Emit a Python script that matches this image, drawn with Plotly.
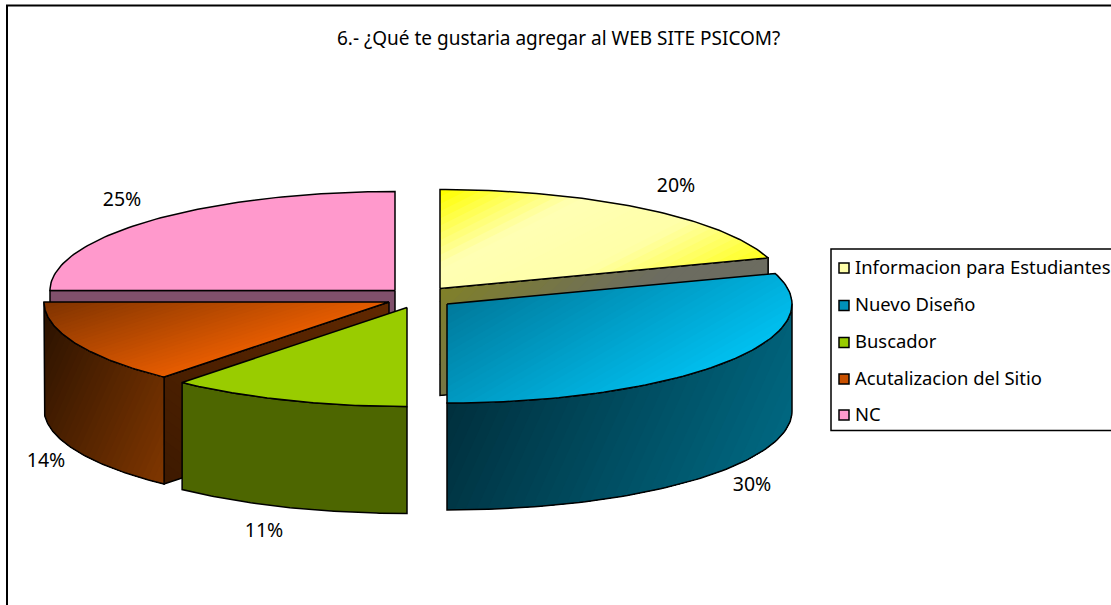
import math
import plotly.graph_objects as go

# ---- data ----
TITLE = "6.- ¿Qué te gustaria agregar al WEB SITE PSICOM?"
categories = ["Informacion para Estudiantes", "Nuevo Diseño", "Buscador", "Acutalizacion del Sitio", "NC"]
values = [20.0, 30.0, 11.3, 13.7, 25.0]

# ---- style / layout ----
W, H = 1111, 605
RX, RY, DEPTH = 345, 99, 107
FONT = "Noto Sans"
TITLE_FS, LEGEND_FS, LABEL_FS = 19, 18.4, 19.5
apex = [(440, 288.5), (447, 304), (407, 307.5), (389, 302), (395, 290.5)]
label_pos = [(676, 187), (752, 486), (264, 532), (46, 462), (122, 201)]
legend_y = [269, 306.5, 343.5, 380, 416]
legend_fill = ["#FFFFAA", "#0090B8", "#99CC00", "#C85000", "#FF99CC"]
top_grad = [
    (["#FFFF00", "#FFFFB4", "#FFFFA8", "#FFFF20"], (0.45, 0.9)),
    (["#007A9C", "#00BFEF"], (0.5, 0.87)),
    (["#99CC00", "#99CC00"], (1, 0)),
    (["#7F3300", "#E65C00"], (0.3, 0.95)),
    (["#FF99CC", "#FF99CC"], (1, 0)),
]
wall_grad = [
    None,
    (["#00303E", "#00667F"], (0.9, 0.4)),
    (["#4D6600", "#4D6600"], (1, 0)),
    (["#2A1200", "#7F3600"], (0.9, 0.4)),
    None,
]
# cut wall: index of the radial edge shown (0 = start, 1 = end)
cut_faces = {
    0: (1, ["#80802A", "#6C6C60", "#6C6C60"], (0.7, 0.7)),
    3: (0, ["#3E1A00", "#612800"], (0.6, -0.8)),
    4: (0, ["#80506C", "#80506C"], (1, 0)),
}


def pt(c, deg):
    a = math.radians(deg)
    return (c[0] + RX * math.sin(a), c[1] - RY * math.cos(a))


def arc(c, a1, a2, n=80):
    return [pt(c, a1 + (a2 - a1) * i / n) for i in range(n + 1)]


def clip(poly, d, level):
    out = []
    for i, p in enumerate(poly):
        q = poly[(i + 1) % len(poly)]
        tp = p[0] * d[0] + p[1] * d[1] - level
        tq = q[0] * d[0] + q[1] * d[1] - level
        if tp >= 0:
            out.append(p)
        if (tp >= 0) != (tq >= 0):
            s = tp / (tp - tq)
            out.append((p[0] + s * (q[0] - p[0]), p[1] + s * (q[1] - p[1])))
    return out


def mix(stops, t):
    rgb = [tuple(int(s[i:i + 2], 16) for i in (1, 3, 5)) for s in stops]
    f = t * (len(rgb) - 1)
    i = min(int(f), len(rgb) - 2)
    u = f - i
    return "rgb(%d,%d,%d)" % tuple(round(rgb[i][k] + u * (rgb[i + 1][k] - rgb[i][k])) for k in range(3))


fig = go.Figure()


def face(poly, stops, d):
    ts = [p[0] * d[0] + p[1] * d[1] for p in poly]
    lo, hi = min(ts), max(ts)
    n = 1 if stops[0] == stops[-1] and len(stops) == 2 else 32
    for k in range(n):
        part = clip(poly, d, lo + (hi - lo) * k / n) if k else poly
        if len(part) < 3:
            continue
        fig.add_trace(go.Scatter(
            x=[p[0] for p in part] + [part[0][0]], y=[p[1] for p in part] + [part[0][1]],
            mode="lines", fill="toself", fillcolor=mix(stops, k / max(n - 1, 1)),
            line=dict(width=0), showlegend=False, hoverinfo="skip"))
    fig.add_trace(go.Scatter(
        x=[p[0] for p in poly] + [poly[0][0]], y=[p[1] for p in poly] + [poly[0][1]],
        mode="lines", line=dict(color="#000000", width=1.5), showlegend=False, hoverinfo="skip"))


# angular extents derived from the values
total = sum(values)
spans = []
acc = 0.0
for v in values:
    spans.append((acc / total * 360, (acc + v) / total * 360))
    acc += v

for i in [4, 0, 3, 2, 1]:  # back to front
    c = apex[i]
    a1, a2 = spans[i]
    if i in cut_faces:
        edge, stops, d = cut_faces[i]
        e = pt(c, a2 if edge else a1)
        face([c, e, (e[0], e[1] + DEPTH), (c[0], c[1] + DEPTH)], stops, d)
    if wall_grad[i]:
        b1, b2 = max(a1, 90), min(a2, 270)
        rim = arc(c, b1, b2)
        stops, d = wall_grad[i]
        face(rim + [(x, y + DEPTH) for x, y in reversed(rim)], stops, d)
    stops, d = top_grad[i]
    face([c] + arc(c, a1, a2), stops, d)

# data labels
fig.add_trace(go.Scatter(
    x=[p[0] for p in label_pos], y=[p[1] for p in label_pos],
    text=[f"{round(v / total * 100)}%" for v in values],
    mode="text", textposition="middle center",
    textfont=dict(family=FONT, size=LABEL_FS, color="#000000"),
    showlegend=False, hoverinfo="skip"))

# legend entries
for i, name in enumerate(categories):
    fig.add_trace(go.Scatter(
        x=[844], y=[legend_y[i] - 1], mode="markers", name=name, showlegend=False, hoverinfo="name",
        marker=dict(symbol="square", size=10, color=legend_fill[i],
                    line=dict(color="#000000", width=1.5))))
fig.add_trace(go.Scatter(
    x=[855] * len(categories), y=legend_y, text=categories, mode="text",
    textposition="middle right", cliponaxis=True,
    textfont=dict(family=FONT, size=LEGEND_FS, color="#000000"),
    showlegend=False, hoverinfo="skip"))

fig.update_layout(
    width=W, height=H, autosize=False,
    margin=dict(l=0, r=0, t=0, b=0, pad=0),
    paper_bgcolor="#FFFFFF", plot_bgcolor="#FFFFFF",
    xaxis=dict(range=[0, W], visible=False, fixedrange=True),
    yaxis=dict(range=[H, 0], visible=False, fixedrange=True),
    font=dict(family=FONT, color="#000000"),
    showlegend=False,
    annotations=[dict(x=558, y=38, xref="x", yref="y", text=TITLE, showarrow=False,
                      font=dict(family=FONT, size=TITLE_FS, color="#000000"))],
    shapes=[
        dict(type="line", x0=6, x1=W, y0=5.5, y1=5.5, xref="x", yref="y", line=dict(color="#000000", width=2)),
        dict(type="line", x0=7, x1=7, y0=5, y1=H, xref="x", yref="y", line=dict(color="#000000", width=2)),
        dict(type="rect", x0=831, x1=W + 10, y0=249, y1=430.5, xref="x", yref="y", layer="below",
             fillcolor="#FFFFFF", line=dict(color="#000000", width=1.5)),
    ],
)
fig.write_html("out.html", config=dict(displayModeBar=False),
               post_script="document.body.style.margin='0';document.documentElement.style.overflow='hidden';")
